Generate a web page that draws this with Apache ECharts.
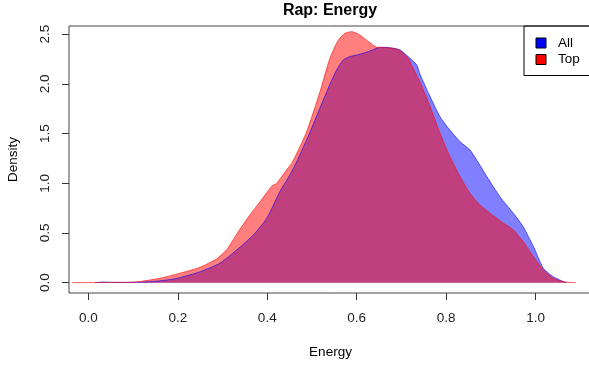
<!DOCTYPE html>
<html>
<head>
<meta charset="utf-8">
<script src="https://cdn.jsdelivr.net/npm/echarts@6.0.0/dist/echarts.min.js"></script>
<style>
  html, body { margin: 0; padding: 0; background: #fff; }
  #main { width: 589px; height: 366px; }
</style>
</head>
<body>
<div id="main"></div>
<script>
// tick values
const xTicks = [0, 0.2, 0.4, 0.6, 0.8, 1.0];
const yTicks = [0, 0.5, 1.0, 1.5, 2.0, 2.5];

// density of energy, all rap songs
const allEnergy = [0.015, 0.03, 0.05, 0.08, 0.12, 0.16, 0.2, 0.25, 0.294, 0.332, 0.369, 0.399, 0.428, 0.45, 0.465,
  0.496, 0.533, 0.555, 0.57, 0.585, 0.607, 0.63, 0.652, 0.674, 0.697, 0.715, 0.734, 0.742, 0.764, 0.786, 0.808,
  0.831, 0.853, 0.868, 0.891, 0.92, 0.95, 0.972, 0.995, 1.017, 1.039, 1.062, 1.068];
const allDensity = [0, 0.006, 0.004, 0.002, 0.005, 0.018, 0.045, 0.11, 0.195, 0.33, 0.48, 0.648, 0.915, 1.08, 1.21,
  1.519, 1.922, 2.14, 2.24, 2.274, 2.298, 2.331, 2.368, 2.364, 2.341, 2.274, 2.19, 2.09, 1.871, 1.67, 1.536,
  1.418, 1.335, 1.234, 1.066, 0.865, 0.698, 0.563, 0.362, 0.145, 0.06, 0.01, 0];

// density of energy, top songs
const topEnergy = [-0.036, 0.0, 0.06, 0.1, 0.116, 0.16, 0.205, 0.25, 0.287, 0.309, 0.332, 0.361, 0.384, 0.41, 0.421,
  0.443, 0.456, 0.488, 0.518, 0.54, 0.559, 0.574, 0.589, 0.607, 0.626, 0.645, 0.667, 0.689, 0.704, 0.715, 0.726,
  0.741, 0.764, 0.786, 0.808, 0.831, 0.853, 0.875, 0.898, 0.928, 0.95, 0.972, 0.995, 1.017, 1.039, 1.062, 1.09];
const topDensity = [0, 0.001, 0.002, 0.006, 0.012, 0.044, 0.095, 0.155, 0.24, 0.33, 0.49, 0.68, 0.815, 0.97, 1.0,
  1.134, 1.21, 1.519, 1.922, 2.257, 2.442, 2.509, 2.525, 2.492, 2.425, 2.368, 2.364, 2.351, 2.308, 2.257, 2.157,
  2.022, 1.771, 1.503, 1.268, 1.066, 0.899, 0.782, 0.698, 0.598, 0.53, 0.412, 0.262, 0.128, 0.044, 0.01, 0];

const font = '"Liberation Sans", Arial, sans-serif';
const pairs = (xs, ys) => xs.map((x, i) => [x, ys[i]]);

const chart = echarts.init(document.getElementById('main'), null, { renderer: 'canvas' });

chart.setOption({
  animation: false,
  title: {
    text: 'Rap: Energy',
    left: 330,
    top: 3,
    padding: 0,
    textAlign: 'center',
    textStyle: { fontFamily: font, fontSize: 16, fontWeight: 'bold', color: '#000' }
  },
  grid: {
    left: 69,
    top: 26,
    width: 523,
    bottom: 73,
    outerBoundsMode: 'none',
    show: true,
    borderColor: '#444',
    borderWidth: 1,
    backgroundColor: 'transparent'
  },
  legend: {
    orient: 'vertical',
    left: 524,
    top: 26,
    padding: [10, 12, 9, 11.5],
    itemWidth: 10,
    itemHeight: 10,
    itemGap: 2.5,
    borderColor: '#000',
    borderWidth: 1,
    textStyle: { fontFamily: font, fontSize: 13.5, color: '#000', padding: [0, 0, 0, 7] },
    data: [
      { name: 'All', icon: 'rect', itemStyle: { color: '#0000ff', borderColor: '#000', borderWidth: 1 } },
      { name: 'Top', icon: 'rect', itemStyle: { color: '#ff0000', borderColor: '#000', borderWidth: 1 } }
    ]
  },
  xAxis: {
    type: 'value',
    min: -0.0431,
    max: 1.1258,
    name: 'Energy',
    nameLocation: 'middle',
    nameGap: 52,
    nameTextStyle: { fontFamily: font, fontSize: 13.5, color: '#000' },
    axisLine: { show: false, onZero: false },
    axisTick: { show: true, length: 7, customValues: xTicks, lineStyle: { color: '#333' } },
    axisLabel: {
      customValues: xTicks,
      margin: 18,
      fontFamily: font,
      fontSize: 13.5,
      color: '#222',
      formatter: v => v.toFixed(1)
    },
    splitLine: { show: false }
  },
  yAxis: {
    type: 'value',
    min: -0.104,
    max: 2.582,
    name: 'Density',
    nameLocation: 'middle',
    nameRotate: 90,
    nameGap: 49,
    nameTextStyle: { fontFamily: font, fontSize: 13.5, color: '#000' },
    axisLine: { show: false, onZero: false },
    axisTick: { show: true, length: 7, customValues: yTicks, lineStyle: { color: '#333' } },
    axisLabel: {
      customValues: yTicks,
      rotate: 90,
      margin: 17,
      fontFamily: font,
      fontSize: 13.5,
      color: '#222',
      formatter: v => v.toFixed(1)
    },
    splitLine: { show: false }
  },
  series: [
    {
      name: 'All',
      type: 'line',
      data: pairs(allEnergy, allDensity),
      smooth: 0.2,
      showSymbol: false,
      lineStyle: { color: 'rgba(0,0,255,0.6)', width: 1 },
      itemStyle: { color: '#0000ff' },
      areaStyle: { color: 'rgba(0,0,255,0.5)', opacity: 1 }
    },
    {
      name: 'Top',
      type: 'line',
      data: pairs(topEnergy, topDensity),
      smooth: 0.2,
      showSymbol: false,
      lineStyle: { color: 'rgba(255,0,0,0.6)', width: 1 },
      itemStyle: { color: '#ff0000' },
      areaStyle: { color: 'rgba(255,0,0,0.5)', opacity: 1 }
    }
  ]
});
</script>
</body>
</html>
